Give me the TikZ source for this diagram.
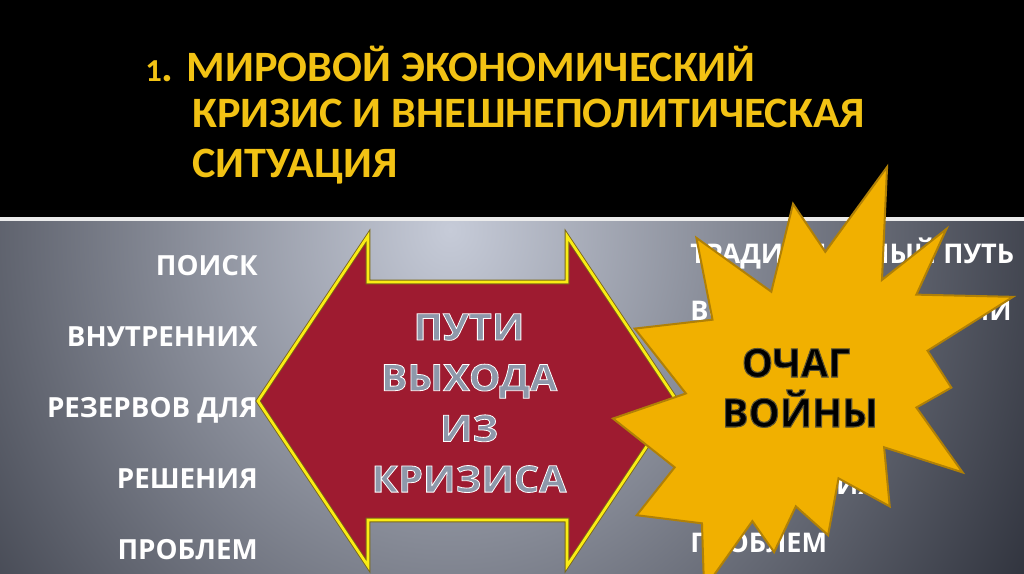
\documentclass[tikz,border=0pt]{standalone}
\usepackage{fontspec}
\setmainfont{Open Sans}
\newfontfamily\titlefont[FakeStretch = 1.02]{Carlito}
\newfontfamily\wayfont[FakeStretch = 1.08]{Open Sans}

\definecolor{bandwhite}{RGB}{236,236,236}
\definecolor{bglight}{RGB}{198,203,216}
\definecolor{bgdark}{RGB}{34,37,47}
\definecolor{titlegold}{RGB}{242,194,20}
\definecolor{arrowred}{RGB}{158,27,48}
\definecolor{arrowrim}{RGB}{250,236,20}
\definecolor{arrowrimdark}{RGB}{122,104,24}
\definecolor{waygray}{RGB}{142,152,170}
\definecolor{stargold}{RGB}{241,176,0}
\definecolor{staredge}{RGB}{176,128,6}

% Text with a stroked rim: #1 stroke colour (rgb), #2 width, #3 text
\newcommand{\rimtext}[3]{\special{pdf:literal direct #1 RG #2 w 2 Tr}#3\special{pdf:literal direct 0 Tr}}

\begin{document}
\begin{tikzpicture}[x = 0.75pt, y = -0.75pt,
	title/.style = {anchor = base west, inner sep = 0, text = titlegold,
		font = \titlefont\bfseries\fontsize{32.5}{32.5}\selectfont},
	sidetext/.style = {inner sep = 0, text = white,
		font = \bfseries\fontsize{20.8}{20.8}\selectfont},
	righttext/.style = {sidetext, anchor = base west,
		font = \bfseries\fontsize{20.3}{20.3}\selectfont},
	waytext/.style = {anchor = base, inner sep = 0, text = waygray,
		font = \wayfont\bfseries\fontsize{27.5}{27.5}\selectfont},
	wartext/.style = {anchor = base, inner sep = 0, text = black,
		font = \bfseries\fontsize{29.5}{29.5}\selectfont}]

	% Page size
	
	\useasboundingbox (0, 0) rectangle (1024, 574);
	
	% Draw background: black band, white rule, grey field
	
	\fill [black] (0, 0) rectangle (1024, 217);
	\begin{scope}
		\clip (0, 220) rectangle (1024, 574);
		\shade [inner color = bglight, outer color = bgdark] (450, 230) ellipse (720 and 800);
	\end{scope}
	\fill [bandwhite] (0, 216.5) rectangle (1024, 220.5);
	
	% Title
	
	\node [title] (title1) at (145, 82) {{\fontsize{24}{24}\selectfont 1}. МИРОВОЙ ЭКОНОМИЧЕСКИЙ};
	\node [title] (title2) at (192, 128) {КРИЗИС И ВНЕШНЕПОЛИТИЧЕСКАЯ};
	\node [title] (title3) at (192, 178) {СИТУАЦИЯ};
	
	% Left column of words
	
	\foreach \word [count = \i] in {ПОИСК, ВНУТРЕННИХ, РЕЗЕРВОВ ДЛЯ, РЕШЕНИЯ, ПРОБЛЕМ}
		\node [sidetext, anchor = base east] (left\i) at (258, 204 + 71 * \i) {\word};
	
	% Right column of words (mostly under the star)
	
	\node [righttext] (right1) at (690, 263) {ТРАДИЦИОННЫЙ ПУТЬ};
	\node [righttext] (right2) at (690, 320.8) {ВОЕННОЙ ЭКСПАНСИИ};
	\node [righttext] (right5) at (690, 494.2) {ВНУТРЕННИХ};
	\node [righttext] (right6) at (690, 552) {ПРОБЛЕМ};
	
	% Draw double arrow
	
	\def\arrowpath{(258, 401) -- (368, 236) -- (368, 282) -- (567, 282) -- (567, 236)
		-- (677, 401) -- (567, 566) -- (567, 520) -- (368, 520) -- (368, 566) -- cycle}
	\fill [arrowred] \arrowpath;
	\draw [arrowrimdark, line width = 3.4pt, line join = miter] \arrowpath;
	\draw [arrowrim, line width = 2pt, line join = miter] \arrowpath;
	
	\foreach \word [count = \i] in {ПУТИ, ВЫХОДА, ИЗ, КРИЗИСА}
		\node [waytext] (way\i) at (469, 289.3 + 50.7 * \i) {\rimtext{1 1 1}{0.6}{\word}};
	
	% Draw explosion star
	
	\begin{scope}[shift = {(613, 167)}, xscale = 400 / 216, yscale = 422 / 216]
		\filldraw [fill = stargold, draw = staredge, line width = 1.5pt, line join = miter]
			(114.64, 43.40) -- (97.22, 18.87) -- (85.48, 63.83) -- (45.03, 36.26)
			-- (53.73, 78.16) -- (11.74, 82.70) -- (39.34, 115.92) -- (0, 128.75)
			-- (33.29, 153.72) -- (12.83, 178.24) -- (48.04, 182.39) -- (49.18, 216)
			-- (75.25, 181.25) -- (86.98, 197.12) -- (98.71, 173.71) -- (116.14, 188.44)
			-- (121.78, 159.37) -- (149.43, 173.71) -- (146.40, 143.48) -- (188.78, 156.32)
			-- (163.82, 123.11) -- (182.70, 112.92) -- (169.86, 94.04) -- (216, 66.46)
			-- (163.82, 65.33) -- (180.05, 31.72) -- (145.24, 57.78) -- (148.0, 0) -- cycle;
	\end{scope}
	
	\node [wartext] (war1) at (796, 377) {\rimtext{0.35 0.32 0.2}{0.8}{ОЧАГ}};
	\node [wartext] (war2) at (800, 427) {\rimtext{0.35 0.32 0.2}{0.8}{ВОЙНЫ}};

\end{tikzpicture}
\end{document}
